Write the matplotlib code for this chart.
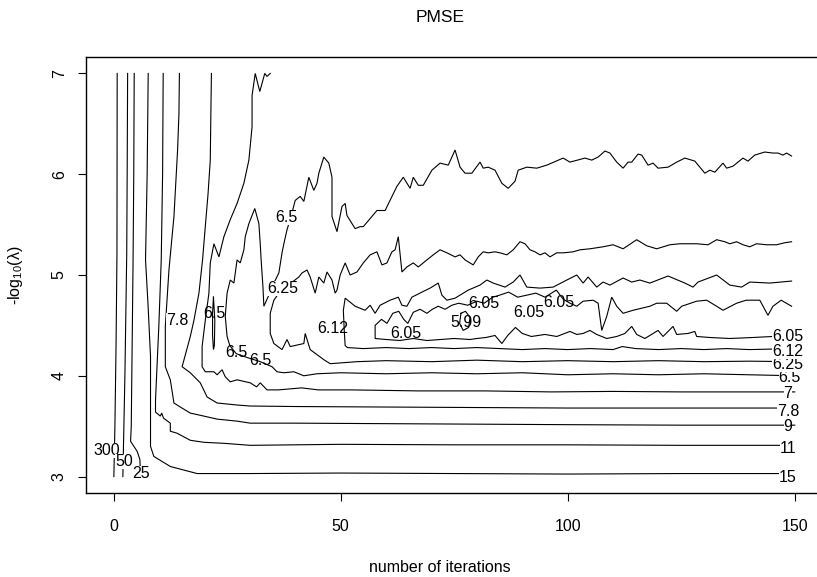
"""PMSE contour plot: number of iterations vs -log10(lambda)."""
import matplotlib
matplotlib.use("Agg")
import matplotlib.pyplot as plt

plt.rcParams["font.family"] = ["Liberation Sans", "DejaVu Sans"]
plt.rcParams["mathtext.fontset"] = "custom"
plt.rcParams["mathtext.rm"] = "Liberation Sans"

# ---- contour lines, (iterations, -log10(lambda)) ----
c300 = [(0.8, 7.0), (0.75, 5.2), (0.55, 4.3), (0.3, 3.5), (0.07, 3.0)]
c50 = [(3.1, 7.0), (3.0, 6.0), (2.9, 5.2), (2.5, 4.0), (2.05, 3.0)]
c25 = [(4.55, 7.0), (4.45, 6.0), (4.3, 5.15), (3.9, 3.5), (3.75, 3.35),
       (5.2, 3.25), (5.8, 3.17), (5.95, 3.0)]
c15 = [(7.63, 7.0), (7.4, 6.0), (7.04, 5.15), (7.6, 4.7), (8.14, 4.19),
       (8.14, 3.3), (8.87, 3.2), (12.5, 3.1), (18.4, 3.03), (30, 3.03),
       (50, 3.035), (75, 3.03), (100, 3.025), (125, 3.03), (150, 3.03)]
c11 = [(10.93, 7.0), (10.8, 6.0), (10.5, 5.15), (9.97, 4.49), (9.24, 3.76),
       (9.24, 3.64), (10.3, 3.6), (10.6, 3.63), (11.0, 3.58), (12.5, 3.53),
       (12.5, 3.45), (14.0, 3.43), (16.9, 3.36), (19.9, 3.34), (24.3, 3.33),
       (30.1, 3.31), (50, 3.32), (75, 3.315), (100, 3.315), (125, 3.31),
       (150, 3.31)]
c9 = [(14.5, 7.0), (14.4, 6.6), (14.1, 6.24), (13.3, 5.58), (12.2, 5.05),
      (11.4, 4.49), (11.4, 4.09), (12.5, 3.96), (13.3, 3.73), (14.7, 3.69),
      (16.9, 3.63), (19.9, 3.6), (22.8, 3.57), (27.2, 3.55), (30.1, 3.53),
      (40, 3.53), (60, 3.525), (80, 3.52), (100, 3.515), (125, 3.51),
      (150, 3.51)]
c78 = [(21.55, 7.0), (21.4, 6.5), (21.3, 6.14), (20.8, 5.8), (20.2, 5.48),
       (19.6, 5.15), (18.8, 4.82), (17.7, 4.55), (16.9, 4.39), (15.1, 4.09),
       (16.9, 4.03), (19.1, 3.93), (20.6, 3.79), (22.8, 3.73), (27.2, 3.71),
       (30.1, 3.70), (40, 3.695), (60, 3.69), (80, 3.685), (100, 3.68),
       (125, 3.68), (150, 3.68)]
c7 = [(34.5, 7.0), (33.8, 6.97), (33.3, 7.0), (32.2, 6.82), (31.2, 7.0),
      (30.5, 6.78), (30.5, 6.47), (29.8, 6.14), (28.7, 5.91), (27.2, 5.71),
      (25.7, 5.55), (24.3, 5.38), (23.2, 5.18), (22.1, 5.31), (21.3, 5.12),
      (21.0, 4.82), (20.2, 4.55), (19.5, 4.29), (19.5, 4.09), (20.2, 4.04),
      (22.1, 4.04), (22.8, 4.01), (23.9, 4.06), (24.6, 3.99), (25.7, 3.94),
      (27.2, 3.96), (30.1, 3.93), (31.5, 3.89), (32.3, 3.93), (33.8, 3.86),
      (36.3, 3.86), (41.4, 3.88), (45.1, 3.86), (52.4, 3.86), (67.1, 3.85),
      (81.8, 3.85), (96.4, 3.84), (110, 3.845), (125, 3.84), (140, 3.84),
      (150, 3.84)]
c65 = [(150, 4.00), (140, 4.01), (130, 4.02), (120, 4.01), (110, 4.02),
       (100, 4.01), (90, 4.03), (80, 4.02), (70, 4.03), (60, 4.02), (50, 4.03),
       (44.8, 4.02), (41.9, 4.00), (39.7, 4.04), (37.5, 4.03), (36.0, 4.04),
       (34.9, 4.09), (32.3, 4.14), (29.5, 4.18), (27.0, 4.22), (25.6, 4.30),
       (25.0, 4.39), (24.6, 4.59), (25.0, 4.82), (25.7, 4.95), (26.5, 4.92),
       (27.2, 5.15), (27.9, 5.12), (28.7, 5.25), (29.0, 5.38), (29.8, 5.51),
       (31.1, 5.66), (32.0, 5.51), (32.3, 5.31), (32.5, 5.15), (32.9, 4.88),
       (33.1, 4.69), (34.2, 4.80), (35.3, 4.92), (36.4, 5.02), (37.1, 5.22),
       (37.5, 5.31), (38.2, 5.45), (38.9, 5.55), (40.0, 5.74), (41.1, 5.78),
       (41.9, 5.73), (43.0, 5.97), (44.1, 5.84), (44.8, 5.91), (45.2, 6.01),
       (46.3, 6.17), (47.4, 6.11), (48.1, 5.97), (48.1, 5.58), (49.2, 5.43),
       (50.3, 5.68), (51.0, 5.71), (51.4, 5.59), (53.2, 5.46), (54.3, 5.48),
       (55.0, 5.48), (56.5, 5.56), (58.0, 5.64), (59.8, 5.64), (62.4, 5.88),
       (63.8, 5.97), (65.3, 5.86), (66.0, 5.97), (67.1, 5.89), (68.2, 5.89),
       (70.1, 6.04), (71.9, 6.11), (73.7, 6.09), (75.2, 6.24), (76.3, 6.07),
       (77.4, 6.01), (78.9, 6.01), (80.7, 6.12), (81.4, 6.06), (82.5, 6.07),
       (84.0, 6.04), (85.5, 5.91), (86.9, 5.86), (88.4, 5.93), (89.1, 6.04),
       (91.0, 6.07), (93.2, 6.06), (95.4, 6.09), (99.0, 6.16), (100.5, 6.12),
       (103.8, 6.16), (105.3, 6.14), (106.7, 6.17), (108.2, 6.23), (109.3, 6.21),
       (110.8, 6.12), (112.2, 6.06), (113.3, 6.12), (114.1, 6.12), (115.5, 6.2),
       (116.3, 6.19), (117.7, 6.09), (118.8, 6.11), (119.9, 6.06), (122.1, 6.07),
       (124.0, 6.12), (125.8, 6.16), (128.0, 6.13), (129.1, 6.07), (130.2, 6.01),
       (131.3, 6.04), (132.4, 6.02), (134.2, 6.11), (135.0, 6.06), (136.4, 6.08),
       (138.6, 6.16), (139.7, 6.13), (141.2, 6.19), (143.4, 6.22), (145.2, 6.21),
       (146.3, 6.21), (147.4, 6.19), (148.2, 6.21), (149.3, 6.18)]
c65_island = [(22.0, 4.78), (22.3, 4.55), (22.2, 4.30), (22.0, 4.26),
              (21.8, 4.40), (21.8, 4.62), (22.0, 4.78)]
c625 = [(149.3, 5.33), (147.8, 5.32), (146.0, 5.30), (143.8, 5.30), (141.6, 5.31),
        (140.1, 5.28), (138.6, 5.30), (137.2, 5.33), (135.7, 5.31), (134.6, 5.33),
        (132.8, 5.35), (130.9, 5.30), (128.4, 5.31), (124.7, 5.31), (122.5, 5.30),
        (119.6, 5.26), (117.4, 5.29), (115.2, 5.35), (112.2, 5.26), (110.0, 5.30),
        (107.8, 5.28), (104.9, 5.26), (102.7, 5.25), (101.2, 5.23), (99.0, 5.22),
        (97.6, 5.22), (96.1, 5.18), (95.0, 5.22), (93.9, 5.2), (92.8, 5.23),
        (91.7, 5.25), (90.6, 5.31), (89.5, 5.33), (88.0, 5.25), (86.6, 5.2),
        (85.1, 5.22), (84.0, 5.23), (82.5, 5.22), (81.4, 5.23), (80.3, 5.18),
        (79.2, 5.1), (78.1, 5.13), (77.4, 5.15), (76.3, 5.2), (75.2, 5.18),
        (73.4, 5.22), (71.9, 5.25), (70.4, 5.2), (69.0, 5.15), (67.1, 5.08),
        (66.0, 5.12), (64.6, 5.08), (63.5, 5.03), (62.7, 5.38), (62.0, 5.25),
        (61.3, 5.23), (60.2, 5.12), (59.1, 5.1), (58.0, 5.23), (56.5, 5.2),
        (55.0, 5.12), (53.6, 5.03), (52.1, 5.0), (51.0, 5.12), (49.9, 5.0),
        (49.2, 4.85), (48.8, 4.82), (48.1, 4.95), (47.0, 5.03), (46.3, 4.92),
        (45.2, 4.98), (44.4, 4.82), (43.3, 4.98), (42.6, 5.05), (41.5, 5.02),
        (40.8, 4.98), (38.5, 4.9), (37.2, 4.87), (35.3, 4.75), (34.5, 4.62),
        (34.5, 4.42), (35.3, 4.32), (37.1, 4.26), (38.2, 4.36), (38.9, 4.29),
        (41.9, 4.32), (42.2, 4.42), (43.3, 4.26), (46.3, 4.16), (47.7, 4.12),
        (53.6, 4.14), (60, 4.15), (70, 4.14), (80, 4.155), (90, 4.14),
        (100, 4.15), (110, 4.14), (120, 4.15), (130, 4.14), (140, 4.145),
        (150, 4.14)]
c612 = [(150, 4.26), (145, 4.265), (140, 4.26), (135, 4.27), (130, 4.26),
        (125, 4.27), (120, 4.26), (115, 4.27), (112, 4.29), (110, 4.26),
        (105, 4.27), (100, 4.26), (95, 4.27), (90, 4.26), (85, 4.27), (80, 4.28),
        (75, 4.27), (70, 4.28), (65, 4.27), (60, 4.28), (55, 4.27), (51.5, 4.28),
        (51.0, 4.30), (50.8, 4.45), (50.6, 4.65), (51.0, 4.77), (53.2, 4.69),
        (55.4, 4.65), (56.5, 4.70), (57.6, 4.62), (58.7, 4.70), (60.9, 4.75),
        (62.7, 4.78), (63.5, 4.70), (64.6, 4.69), (65.7, 4.78), (67.9, 4.83),
        (69.7, 4.87), (71.5, 4.92), (72.3, 4.80), (73.4, 4.75), (75.2, 4.77),
        (78.1, 4.85), (80.7, 4.90), (82.2, 4.95), (83.6, 4.92), (86.2, 4.88),
        (88.0, 4.93), (89.5, 5.0), (91.0, 4.88), (93.9, 4.87), (96.8, 4.88),
        (99.8, 4.95), (102.0, 5.0), (103.4, 4.92), (104.5, 4.98), (106.4, 4.88),
        (107.8, 4.93), (109.3, 4.90), (112.2, 4.97), (114.1, 4.93), (115.9, 4.95),
        (118.1, 4.92), (122.1, 4.99), (125.8, 4.92), (127.6, 4.88), (128.7, 4.93),
        (132.8, 5.0), (135.7, 4.90), (138.3, 4.88), (140.1, 4.93), (144.5, 4.92),
        (149.3, 4.94)]
c605 = [(150, 4.37), (145.2, 4.39), (140.8, 4.38), (135.7, 4.37), (131.3, 4.38),
        (128.4, 4.39), (128.0, 4.44), (126.5, 4.42), (124.0, 4.41), (123.2, 4.49),
        (121.0, 4.39), (119.9, 4.45), (117.0, 4.37), (115.2, 4.41), (114.1, 4.49),
        (112.6, 4.42), (110.8, 4.39), (108.6, 4.37), (106.4, 4.41), (104.9, 4.45),
        (103.4, 4.42), (102.0, 4.41), (100.5, 4.44), (97.6, 4.39), (95.0, 4.41),
        (92.0, 4.39), (90.0, 4.42), (88.5, 4.48), (86.8, 4.40), (85.5, 4.32),
        (84.0, 4.40), (82.0, 4.38), (80.0, 4.37), (78.5, 4.36), (75.0, 4.37),
        (72.0, 4.36), (69.0, 4.35), (66.0, 4.37), (63.0, 4.35), (60.0, 4.36),
        (57.6, 4.37), (57.6, 4.50), (59.0, 4.56), (60.2, 4.52), (61.5, 4.62),
        (62.8, 4.64), (63.9, 4.56), (64.8, 4.52), (66.0, 4.63), (67.5, 4.66),
        (69.0, 4.62), (70.2, 4.66), (71.5, 4.69), (73.0, 4.66), (74.5, 4.70),
        (76.0, 4.72), (78.0, 4.70), (80.0, 4.74), (81.6, 4.72), (83.5, 4.78),
        (85.0, 4.80), (87.0, 4.83), (89.0, 4.78), (91.0, 4.80), (93.0, 4.82),
        (95.0, 4.78), (97.5, 4.85), (99.0, 4.76), (100.5, 4.72), (102.0, 4.69),
        (103.4, 4.74), (105.6, 4.75), (106.7, 4.72), (107.5, 4.45), (108.6, 4.59),
        (109.7, 4.78), (110.8, 4.69), (112.2, 4.62), (114.4, 4.65), (118.1, 4.69),
        (119.6, 4.72), (121.8, 4.72), (124.0, 4.64), (125.1, 4.69), (128.4, 4.74),
        (130.6, 4.75), (132.8, 4.69), (134.2, 4.65), (137.2, 4.72), (139.3, 4.75),
        (142.3, 4.75), (144.1, 4.60), (145.2, 4.69), (147.0, 4.75), (149.3, 4.69)]
c599 = [(76.5, 4.62), (77.5, 4.64), (78.5, 4.58), (78.2, 4.48), (77.0, 4.45),
        (76.2, 4.52), (76.5, 4.62)]

contours = [c300, c50, c25, c15, c11, c9, c78, c7, c65, c65_island,
            c625, c612, c605, c599]

# ---- contour labels: text, x, y, whether the line is broken under it ----
label_text = ["300", "50", "25", "15", "11", "9", "7.8", "7", "6.5", "6.25",
              "6.12", "6.05", "7.8", "6.5", "6.5", "6.5", "6.5", "6.25",
              "6.12", "6.05", "5.99", "6.05", "6.05", "6.05"]
label_x = [-1.4, 2.27, 6.1, 148.5, 148.5, 148.5, 148.5, 148.5, 148.9, 148.5,
           148.5, 148.5, 14.1, 22.3, 27.0, 32.3, 38.0, 37.2,
           48.3, 64.4, 77.6, 81.6, 91.5, 98.1]
label_y = [3.26, 3.15, 3.03, 2.99, 3.28, 3.50, 3.65, 3.82, 3.98, 4.11,
           4.24, 4.39, 4.55, 4.62, 4.23, 4.15, 5.57, 4.87,
           4.47, 4.42, 4.53, 4.72, 4.63, 4.73]
label_mask = [True] * 12 + [True, False, False, False, True, True,
                            False, False, False, False, False, False]

x_ticks = [0, 50, 100, 150]
y_ticks = [3, 4, 5, 6, 7]

W, H = 817, 577
fig = plt.figure(figsize=(W / 100, H / 100), dpi=100)
fig.patch.set_facecolor("white")
# plot box in pixels: left 86.3, right 822 (runs off the right edge), top 57.3, bottom 492.7
ax = fig.add_axes([86.3 / W, 1 - 492.7 / H, (822 - 86.3) / W, (492.7 - 57.3) / H])
ax.set_xlim(-6, 156)
ax.set_ylim(2.84, 7.16)

for pts in contours:
    xs = [p[0] for p in pts]
    ys = [p[1] for p in pts]
    ax.plot(xs, ys, color="black", lw=0.8, solid_joinstyle="miter", zorder=2)

for t, x, y, m in zip(label_text, label_x, label_y, label_mask):
    kw = dict(ha="center", va="center", fontsize=11.5, color="black", zorder=3)
    if m:
        kw["bbox"] = dict(facecolor="white", edgecolor="none", pad=0.0)
    ax.text(x, y, t, **kw)

ax.set_xticks(x_ticks)
ax.set_yticks(y_ticks)
ax.tick_params(axis="both", direction="out", length=6, width=0.8,
               labelsize=11.5, color="black")
ax.tick_params(axis="x", pad=13)
ax.tick_params(axis="y", pad=8, labelrotation=90)
for lab in ax.get_yticklabels():
    lab.set_va("center")
for s in ax.spines.values():
    s.set_linewidth(1.0)
    s.set_color("black")

fig.text(440 / W, 1 - 18 / H, "PMSE", ha="center", va="center", fontsize=12.5)
fig.text(440 / W, 1 - 567 / H, "number of iterations", ha="center",
         va="center", fontsize=11.5)
fig.text(16 / W, 1 - 275 / H, r"-log$_{\mathregular{10}}$(λ)", ha="center",
         va="center", rotation=90, fontsize=11.5)

fig.savefig("out.png", dpi=100, facecolor="white")
